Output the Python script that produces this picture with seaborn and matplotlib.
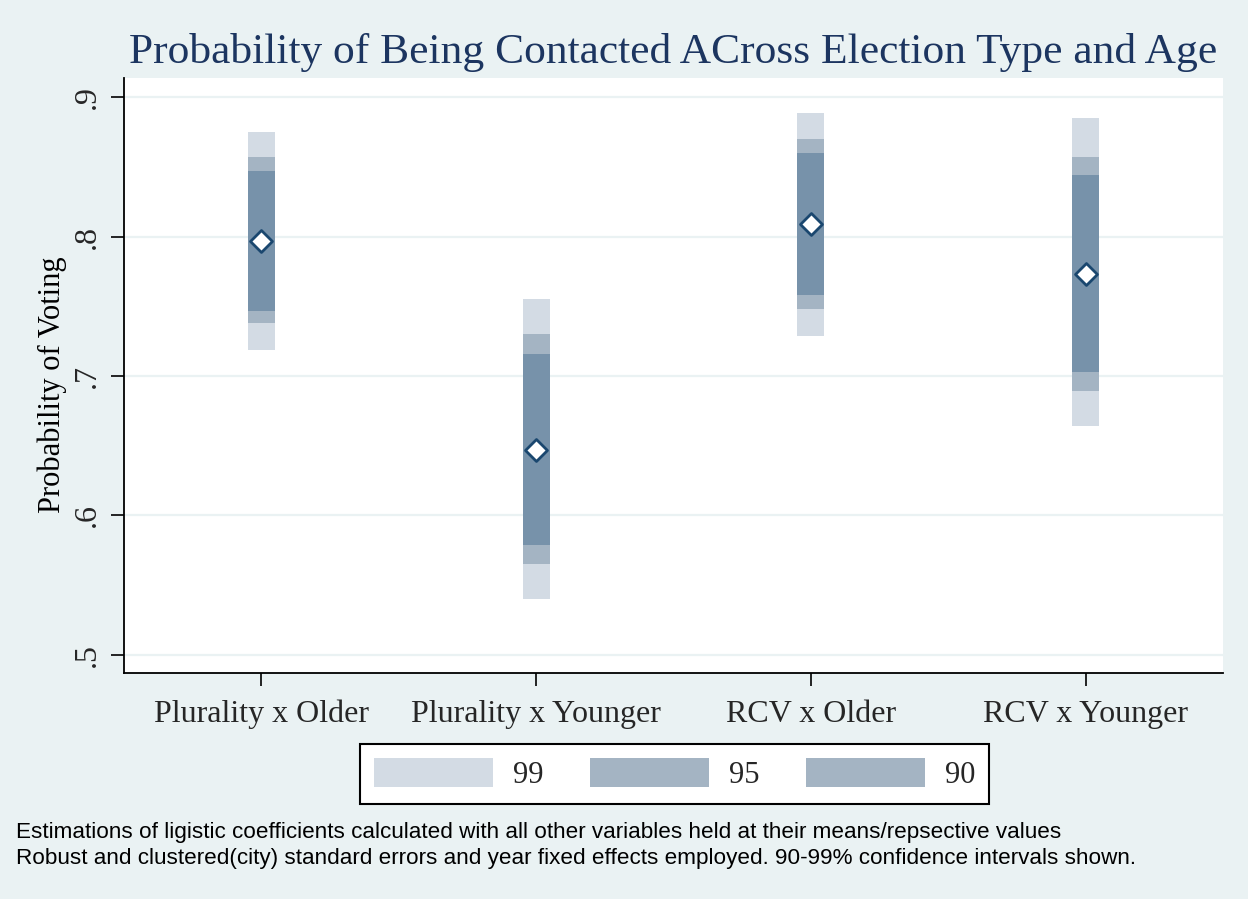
import matplotlib
matplotlib.use("Agg")
import matplotlib.pyplot as plt
from matplotlib.patches import Patch
import seaborn as sns
import pandas as pd
import numpy as np

# ---- data ----
categories = ["Plurality x Older", "Plurality x Younger", "RCV x Older", "RCV x Younger"]
estimate = [0.797, 0.647, 0.809, 0.773]
ci99_low = [0.719, 0.540, 0.729, 0.664]
ci99_high = [0.875, 0.755, 0.889, 0.885]
ci95_low = [0.738, 0.565, 0.748, 0.689]
ci95_high = [0.857, 0.730, 0.870, 0.857]
ci90_low = [0.747, 0.579, 0.758, 0.703]
ci90_high = [0.847, 0.716, 0.860, 0.844]
ytick_values = [0.5, 0.6, 0.7, 0.8, 0.9]
ytick_labels = [".5", ".6", ".7", ".8", ".9"]
legend_labels = ["99", "95", "90"]

title = "Probability of Being Contacted ACross Election Type and Age"
ylabel = "Probability of Voting"
note1 = "Estimations of ligistic coefficients calculated with all other variables held at their means/repsective values"
note2 = "Robust and clustered(city) standard errors and year fixed effects employed. 90-99% confidence intervals shown."

# ---- style ----
BG = "#EAF2F3"
C99 = "#D3DBE4"
C95 = "#A4B4C3"
C90 = "#7792AA"
NAVY = "#1A476F"
TITLE_C = "#1C3560"

sns.set_theme(style="white")
plt.rcParams["font.family"] = ["Liberation Serif", "DejaVu Serif"]

W, H = 1248, 899
fig = plt.figure(figsize=(W / 100, H / 100), dpi=100, facecolor=BG)
ax = fig.add_axes([123.7 / W, 1 - 672.7 / H, (1223.3 - 123.7) / W, (672.7 - 78.3) / H])
ax.set_facecolor("white")

df = pd.DataFrame({
    "category": categories, "estimate": estimate,
    "lo99": ci99_low, "hi99": ci99_high,
    "lo95": ci95_low, "hi95": ci95_high,
    "lo90": ci90_low, "hi90": ci90_high,
})
x = np.arange(len(categories))
bw = 0.098

for lo, hi, col in [("lo99", "hi99", C99), ("lo95", "hi95", C95), ("lo90", "hi90", C90)]:
    ax.bar(x, df[hi] - df[lo], bottom=df[lo], width=bw, color=col, linewidth=0, zorder=2)

sns.scatterplot(data=df.assign(xpos=x), x="xpos", y="estimate", marker="D", s=125,
                color="white", edgecolor=NAVY, linewidth=2.0, zorder=5, ax=ax, legend=False)

ax.set_xlim(-0.5, 3.5)
ax.set_ylim(0.4870, 0.9137)
ax.set_xticks(x)
ax.set_xticklabels(categories, fontsize=23)
ax.set_yticks(ytick_values)
ax.set_yticklabels(ytick_labels, fontsize=23)
ax.tick_params(axis="y", labelrotation=90, length=9.4, width=1.2, color="black", pad=6, left=True)
ax.tick_params(axis="x", length=9.4, width=1.2, color="black", pad=10, bottom=True)
for lab in ax.get_yticklabels():
    lab.set_va("center")

ax.grid(False)
for yv in ytick_values:
    ax.axhline(yv, color=BG, linewidth=1.6, zorder=1)

for s in ["top", "right"]:
    ax.spines[s].set_visible(False)
for s in ["left", "bottom"]:
    ax.spines[s].set_color("black")
    ax.spines[s].set_linewidth(1.3)

ax.set_xlabel("")
ax.set_ylabel(ylabel, fontsize=22, color="black")
ax.yaxis.set_label_coords(-0.052, 0.484)

fig.text(0.5397, 1 - 62.7 / H, title, fontsize=31.3, color=TITLE_C, ha="center", va="baseline")

handles = [Patch(facecolor=C99, edgecolor="none"),
           Patch(facecolor=C95, edgecolor="none"),
           Patch(facecolor=C95, edgecolor="none")]
leg = fig.legend(handles, legend_labels, loc="center", bbox_to_anchor=(674.5 / W, 1 - 774 / H),
                 ncol=3, fontsize=22, handlelength=3.9, handleheight=1.08, handletextpad=0.65,
                 columnspacing=1.52, borderpad=0.45, fancybox=False, framealpha=1,
                 edgecolor="black", facecolor="white")
leg.get_frame().set_linewidth(1.5)

fig.text(16 / W, 1 - 838 / H, note1, fontsize=16.2, family=["Liberation Sans", "DejaVu Sans"],
         ha="left", va="baseline", color="black")
fig.text(16 / W, 1 - 864 / H, note2, fontsize=16.2, family=["Liberation Sans", "DejaVu Sans"],
         ha="left", va="baseline", color="black")

fig.savefig("out.png", dpi=100, facecolor=BG)
